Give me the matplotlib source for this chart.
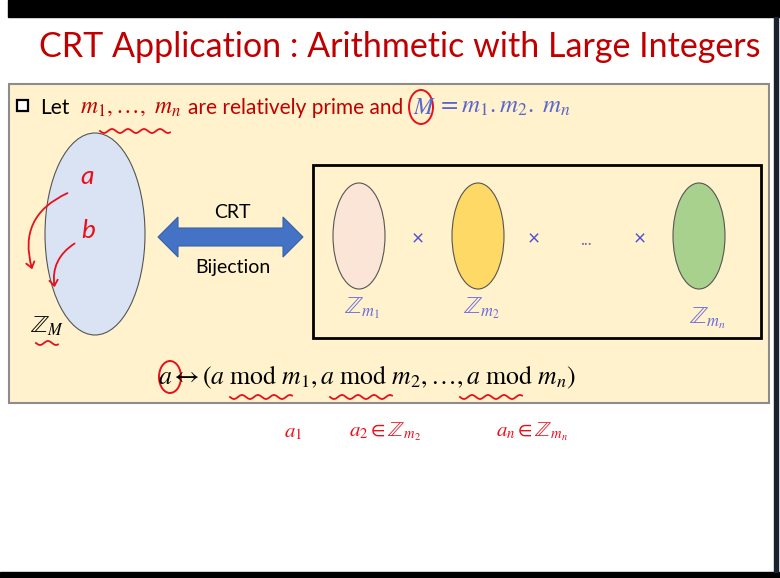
import matplotlib
matplotlib.use('Agg')
import matplotlib.pyplot as plt
from matplotlib.patches import Ellipse, Rectangle, Polygon, FancyArrowPatch
import numpy as np

plt.rcParams['mathtext.fontset'] = 'stix'
plt.rcParams['font.family'] = ['Lato', 'DejaVu Sans']

# slide text
title = 'CRT Application : Arithmetic with Large Integers'
arrow_top = 'CRT'
arrow_bottom = 'Bijection'
formula = r'$a \leftrightarrow (a\ \mathrm{mod}\ m_1, a\ \mathrm{mod}\ m_2, \ldots, a\ \mathrm{mod}\ m_n)$'

# small rings Z_m1 ... Z_mn
ring_labels = [r'$\mathbb{Z}_{m_1}$', r'$\mathbb{Z}_{m_2}$', r'$\mathbb{Z}_{m_n}$']
ring_colors = ['#FBE5D6', '#FFD966', '#A9D18E']
ring_x = [359, 478, 699]
label_x = [362, 482, 708]
label_y = [308, 308, 318]
times_x = [418, 534, 640]

# handwritten notes (red ink)
notes = [r'$a_1$', r'$a_2 \in \mathbb{Z}_{m_2}$', r'$a_n \in \mathbb{Z}_{m_n}$']
notes_x = [293, 385, 532]
wave_spans = [(100, 170, 131), (36, 58, 343), (230, 292, 397), (330, 392, 397), (460, 522, 397)]

RED = '#C00000'
INK = '#E8101A'
BLUE = '#5A66CC'

fig = plt.figure(figsize=(7.8, 5.78), dpi=100)
ax = fig.add_axes([0, 0, 1, 1])
ax.set_xlim(0, 780)
ax.set_ylim(578, 0)
ax.axis('off')

# frame of the screen grab
ax.add_patch(Rectangle((8, 0), 772, 17, color='black'))
ax.add_patch(Rectangle((0, 572), 780, 6, color='black'))
ax.add_patch(Rectangle((774, 17), 4, 555, color='#1a2230'))

ax.text(400, 47, title, color=RED, fontsize=24.5, ha='center', va='center')

# cream box
ax.add_patch(Rectangle((9, 84), 760, 319, facecolor='#FFF2CC', edgecolor='#8c8c8c', lw=1.5))

# bullet line
ax.add_patch(Rectangle((17, 100), 11, 11, facecolor='white', edgecolor='black', lw=1.6))
ax.text(40, 108, 'Let', color='black', fontsize=15, va='center')
ax.text(80, 107, r'$m_1, \ldots,\ m_n$', color=RED, fontsize=17, va='center')
ax.text(188, 108, 'are relatively prime and', color=RED, fontsize=15, va='center')
ax.text(413, 107, r'$M$', color=BLUE, fontsize=17, va='center')
ax.text(437, 107, r'$= m_1 . m_2 .\ m_n$', color=BLUE, fontsize=18, va='center')

# Z_M
ax.add_patch(Ellipse((95, 234), 100, 202, facecolor='#DAE3F3', edgecolor='#555555', lw=0.8))
ax.text(30, 326, r'$\mathbb{Z}_M$', color='black', fontsize=17, va='center')

# CRT double arrow
x0, x1, yc, shaft, head, hl = 158, 303, 237, 9, 20, 20
ax.add_patch(Polygon([(x0, yc), (x0 + hl, yc - head), (x0 + hl, yc - shaft),
                      (x1 - hl, yc - shaft), (x1 - hl, yc - head), (x1, yc),
                      (x1 - hl, yc + head), (x1 - hl, yc + shaft), (x0 + hl, yc + shaft),
                      (x0 + hl, yc + head)], closed=True, facecolor='#4472C4',
                     edgecolor='#3A62A8', lw=0.8))
ax.text(232, 212, arrow_top, fontsize=14, ha='center', va='center')
ax.text(233, 268, arrow_bottom, fontsize=14, ha='center', va='center')

# product of rings
ax.add_patch(Rectangle((313, 165), 448, 173, facecolor='none', edgecolor='black', lw=2))
for x, c in zip(ring_x, ring_colors):
    ax.add_patch(Ellipse((x, 236), 52, 106, facecolor=c, edgecolor='#555555', lw=0.8))
for x, lab, lx, ly in zip(ring_x, ring_labels, label_x, label_y):
    ax.text(lx, ly, lab, color='#6B6BE0', fontsize=17, ha='center', va='center')
for x in times_x:
    ax.text(x, 239, '×', color='#5050D0', fontsize=15, ha='center', va='center')
ax.text(586, 240, '...', color='#7070B0', fontsize=12, ha='center', va='center')

ax.text(158, 377, formula, color='black', fontsize=18.5, va='center')

# red ink
ax.text(87, 177, 'a', color=INK, fontsize=19, ha='center', va='center', style='italic')
ax.text(88, 230, 'b', color=INK, fontsize=19, ha='center', va='center', style='italic')
ax.add_patch(FancyArrowPatch((70, 192), (33, 272), connectionstyle='arc3,rad=0.45',
                             arrowstyle='->,head_length=4,head_width=3', color=INK, lw=1.3))
ax.add_patch(FancyArrowPatch((77, 242), (55, 290), connectionstyle='arc3,rad=0.35',
                             arrowstyle='->,head_length=4,head_width=3', color=INK, lw=1.3))
ax.add_patch(Ellipse((421, 107), 24, 34, facecolor='none', edgecolor=INK, lw=1.4))
ax.add_patch(Ellipse((170, 377), 22, 32, facecolor='none', edgecolor=INK, lw=1.4))
for a, b, y in wave_spans:
    xs = np.linspace(a, b, 80)
    ax.plot(xs, y + 2 * np.sin((xs - a) / 16 * 2 * np.pi), color=INK, lw=1.3)
for x, t in zip(notes_x, notes):
    ax.text(x, 432, t, color=INK, fontsize=15, ha='center', va='center')

fig.savefig('out.png', dpi=100)
